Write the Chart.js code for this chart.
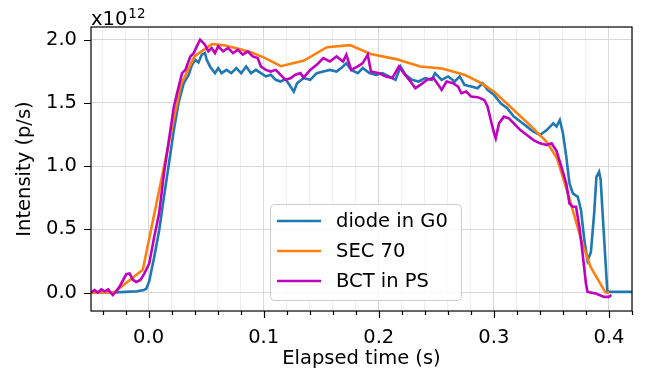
<!DOCTYPE html>
<html>
<head>
<meta charset="utf-8">
<script src="https://cdn.jsdelivr.net/npm/chart.js@4.4.1/dist/chart.umd.min.js"></script>
<style>
  html, body { margin: 0; padding: 0; background: #fff; }
</style>
</head>
<body>
<canvas id="chart" width="647" height="377"></canvas>
<script>
// intensity values in units of 1e12 p/s, time in s
const diodeT = [-0.05, -0.04, -0.03, -0.02, -0.01, -0.004, -0.002, 0.0006, 0.0049, 0.0092, 0.0134, 0.0177, 0.022, 0.0263, 0.0306, 0.0348, 0.0377, 0.0406, 0.0434, 0.0462, 0.049, 0.0505, 0.0534, 0.0577, 0.0605, 0.0634, 0.0677, 0.0719, 0.0762, 0.0805, 0.0848, 0.089, 0.0933, 0.0976, 0.1019, 0.1062, 0.1105, 0.1147, 0.119, 0.1233, 0.1262, 0.129, 0.1347, 0.1404, 0.1461, 0.1518, 0.1575, 0.1633, 0.169, 0.1718, 0.1761, 0.1818, 0.1861, 0.1918, 0.1975, 0.2032, 0.2089, 0.2146, 0.2189, 0.2232, 0.2289, 0.2346, 0.2403, 0.246, 0.2489, 0.2546, 0.2603, 0.266, 0.2703, 0.2745, 0.2802, 0.2859, 0.2902, 0.2945, 0.3002, 0.3059, 0.3116, 0.3173, 0.323, 0.3287, 0.3344, 0.3401, 0.3459, 0.3516, 0.3544, 0.3573, 0.36, 0.3629, 0.3657, 0.3686, 0.3729, 0.3757, 0.3786, 0.3814, 0.3843, 0.3871, 0.3891, 0.3914, 0.3928, 0.3943, 0.3971, 0.3986, 0.41, 0.42]
const diodeV = [0.0, 0.0, 0.0, 0.005, 0.01, 0.02, 0.03, 0.09, 0.28, 0.49, 0.757, 1.02, 1.286, 1.51, 1.656, 1.72, 1.8, 1.84, 1.82, 1.881, 1.894, 1.841, 1.788, 1.735, 1.775, 1.735, 1.761, 1.735, 1.775, 1.735, 1.788, 1.735, 1.761, 1.735, 1.709, 1.722, 1.682, 1.669, 1.688, 1.629, 1.589, 1.655, 1.696, 1.682, 1.735, 1.748, 1.761, 1.748, 1.788, 1.814, 1.761, 1.735, 1.775, 1.735, 1.722, 1.735, 1.709, 1.682, 1.788, 1.722, 1.682, 1.669, 1.696, 1.682, 1.735, 1.682, 1.709, 1.669, 1.709, 1.642, 1.629, 1.616, 1.656, 1.603, 1.563, 1.497, 1.457, 1.391, 1.352, 1.312, 1.272, 1.246, 1.285, 1.338, 1.312, 1.365, 1.26, 1.075, 0.863, 0.784, 0.757, 0.651, 0.413, 0.254, 0.32, 0.624, 0.915, 0.955, 0.889, 0.651, 0.228, 0.005, 0.005, 0.005]

const secT = [-0.05, -0.03, -0.005, 0.028, 0.04, 0.055, 0.066, 0.077, 0.089, 0.1, 0.115, 0.135, 0.155, 0.175, 0.193, 0.215, 0.236, 0.255, 0.275, 0.289, 0.3, 0.317, 0.334, 0.346, 0.355, 0.366, 0.376, 0.384, 0.397, 0.4]
const secV = [0.0, 0.0, 0.18, 1.64, 1.87, 1.965, 1.955, 1.93, 1.9, 1.86, 1.79, 1.835, 1.94, 1.957, 1.886, 1.846, 1.788, 1.772, 1.72, 1.656, 1.59, 1.445, 1.3, 1.19, 1.06, 0.73, 0.414, 0.203, 0.0, 0.0]

const bctT = [-0.05, -0.047, -0.044, -0.041, -0.038, -0.035, -0.033, -0.031, -0.028, -0.025, -0.0193, -0.0165, -0.0135, -0.0108, -0.007, -0.0037, 0.0006, 0.0049, 0.0092, 0.0134, 0.0177, 0.022, 0.0248, 0.0291, 0.032, 0.0363, 0.039, 0.0419, 0.0448, 0.049, 0.0519, 0.0548, 0.0577, 0.0605, 0.0648, 0.0691, 0.0734, 0.0776, 0.0819, 0.0862, 0.0905, 0.0948, 0.0976, 0.1019, 0.1062, 0.1105, 0.1147, 0.119, 0.1233, 0.1276, 0.1319, 0.1347, 0.1404, 0.1461, 0.1518, 0.1575, 0.1633, 0.169, 0.1718, 0.1761, 0.1818, 0.1861, 0.1904, 0.1932, 0.2003, 0.2061, 0.2118, 0.2175, 0.2218, 0.2275, 0.2318, 0.2361, 0.2418, 0.2475, 0.2518, 0.2546, 0.2589, 0.2646, 0.2689, 0.2717, 0.276, 0.2802, 0.2859, 0.2916, 0.2945, 0.2973, 0.3002, 0.3016, 0.3045, 0.3087, 0.313, 0.3173, 0.323, 0.3287, 0.3344, 0.3401, 0.3459, 0.3501, 0.3544, 0.3586, 0.3629, 0.3657, 0.3686, 0.3714, 0.3743, 0.3771, 0.38, 0.3814, 0.3886, 0.3957, 0.4, 0.402]
const bctV = [0.0, 0.02, 0.0, 0.025, 0.01, 0.025, 0.0, -0.02, 0.01, 0.05, 0.145, 0.15, 0.1, 0.084, 0.1, 0.15, 0.23, 0.44, 0.626, 0.943, 1.207, 1.47, 1.577, 1.735, 1.76, 1.867, 1.89, 1.947, 2.0, 1.96, 1.907, 1.934, 1.894, 1.947, 1.907, 1.934, 1.894, 1.92, 1.881, 1.907, 1.867, 1.854, 1.788, 1.761, 1.748, 1.761, 1.722, 1.682, 1.695, 1.722, 1.735, 1.7, 1.761, 1.801, 1.854, 1.827, 1.867, 1.827, 1.881, 1.761, 1.788, 1.814, 1.881, 1.748, 1.735, 1.709, 1.696, 1.788, 1.735, 1.669, 1.616, 1.642, 1.682, 1.696, 1.642, 1.603, 1.669, 1.656, 1.629, 1.576, 1.589, 1.55, 1.545, 1.523, 1.471, 1.365, 1.259, 1.22, 1.338, 1.391, 1.378, 1.338, 1.285, 1.246, 1.206, 1.18, 1.167, 1.18, 1.12, 0.996, 0.863, 0.704, 0.678, 0.678, 0.519, 0.307, 0.07, 0.005, -0.008, -0.034, -0.034, -0.02]

const labels = ["diode in G0", "SEC 70", "BCT in PS"]
const colors = ["#1f77b4", "#ff7f0e", "#bf00bf"]

const xMajorTicks = [0.0, 0.1, 0.2, 0.3, 0.4]
const xTicks = [-0.04, -0.02, 0.0, 0.02, 0.04, 0.06, 0.08, 0.1, 0.12, 0.14, 0.16, 0.18, 0.2, 0.22, 0.24, 0.26, 0.28, 0.3, 0.32, 0.34, 0.36, 0.38, 0.4, 0.42]
const yTicks = [0.0, 0.5, 1.0, 1.5, 2.0]

const FONT = "DejaVu Sans"
const SIZE = 19.5

const toPoints = (ts, vs) => ts.map((t, i) => ({ x: t, y: vs[i] }))
const isMajor = v => xMajorTicks.some(m => Math.abs(m - v) < 1e-9)

const series = [toPoints(diodeT, diodeV), toPoints(secT, secV), toPoints(bctT, bctV)]

const frame = {
  id: "frame",
  afterDraw(chart) {
    const { ctx, chartArea: a, scales } = chart
    ctx.save()
    ctx.strokeStyle = "#000"
    ctx.lineWidth = 1.2
    ctx.beginPath()
    scales.x.ticks.forEach(t => {
      const px = Math.round(scales.x.getPixelForValue(t.value)) + 0.5
      ctx.moveTo(px, a.bottom)
      ctx.lineTo(px, a.bottom + (isMajor(t.value) ? 7 : 4))
    })
    scales.y.ticks.forEach(t => {
      const py = Math.round(scales.y.getPixelForValue(t.value)) + 0.5
      ctx.moveTo(a.left, py)
      ctx.lineTo(a.left - 7, py)
    })
    ctx.stroke()
    ctx.strokeRect(a.left, a.top, a.right - a.left, a.bottom - a.top)

    // offset text
    ctx.fillStyle = "#000"
    ctx.textBaseline = "alphabetic"
    ctx.textAlign = "left"
    ctx.font = SIZE + "px '" + FONT + "'"
    ctx.fillText("x10", a.left, 25)
    const w = ctx.measureText("x10").width
    ctx.font = "13.5px '" + FONT + "'"
    ctx.fillText("12", a.left + w + 1, 18)

    // legend
    const bx = 270.5, by = 204.5, bw = 191, bh = 96
    ctx.beginPath()
    ctx.roundRect(bx, by, bw, bh, 4)
    ctx.fillStyle = "rgba(255,255,255,0.8)"
    ctx.fill()
    ctx.strokeStyle = "#cccccc"
    ctx.lineWidth = 1
    ctx.stroke()
    ctx.font = SIZE + "px '" + FONT + "'"
    ctx.textBaseline = "middle"
    chart.data.datasets.forEach((ds, i) => {
      const y = 221 + i * 30
      ctx.strokeStyle = ds.borderColor
      ctx.lineWidth = 2.6
      ctx.beginPath()
      ctx.moveTo(277, y)
      ctx.lineTo(321, y)
      ctx.stroke()
      ctx.fillStyle = "#000"
      ctx.fillText(ds.label, 336, y + 1)
    })
    ctx.restore()
  },
}

Chart.defaults.font.family = FONT
Chart.defaults.font.size = SIZE
Chart.defaults.color = "#000"

const config = {
  type: "line",
  data: {
    datasets: series.map((pts, i) => ({
      label: labels[i],
      data: pts,
      borderColor: colors[i],
      backgroundColor: colors[i],
      borderWidth: 2.6,
      pointRadius: 0,
      tension: 0,
      order: 2 - i,
    })),
  },
  options: {
    responsive: false,
    animation: false,
    layout: { padding: { top: 27, right: 7, left: 0, bottom: 0 } },
    plugins: { legend: { display: false }, tooltip: { enabled: false } },
    scales: {
      x: {
        type: "linear",
        min: -0.05,
        max: 0.42,
        afterBuildTicks: s => { s.ticks = xTicks.map(v => ({ value: v })) },
        afterFit: s => { s.height = 66 },
        grid: {
          color: c => (isMajor(c.tick.value) ? "#d9d9d9" : "#efefef"),
          drawTicks: false,
        },
        border: { display: false },
        ticks: {
          autoSkip: false,
          maxRotation: 0,
          padding: 15,
          callback: v => (isMajor(v) ? v.toFixed(1) : ""),
        },
        title: { display: true, text: "Elapsed time (s)", padding: { top: 0, bottom: 6 } },
      },
      y: {
        min: -0.146,
        max: 2.1,
        afterBuildTicks: s => { s.ticks = yTicks.map(v => ({ value: v })) },
        afterFit: s => { s.width = 91 },
        grid: { color: "#d9d9d9", drawTicks: false },
        border: { display: false },
        ticks: { padding: 14, callback: v => v.toFixed(1) },
        title: { display: true, text: "Intensity (p/s)", padding: { top: 13, bottom: 0 } },
      },
    },
  },
  plugins: [frame],
}

const myChart = new Chart(document.getElementById("chart"), config)
</script>
</body>
</html>
